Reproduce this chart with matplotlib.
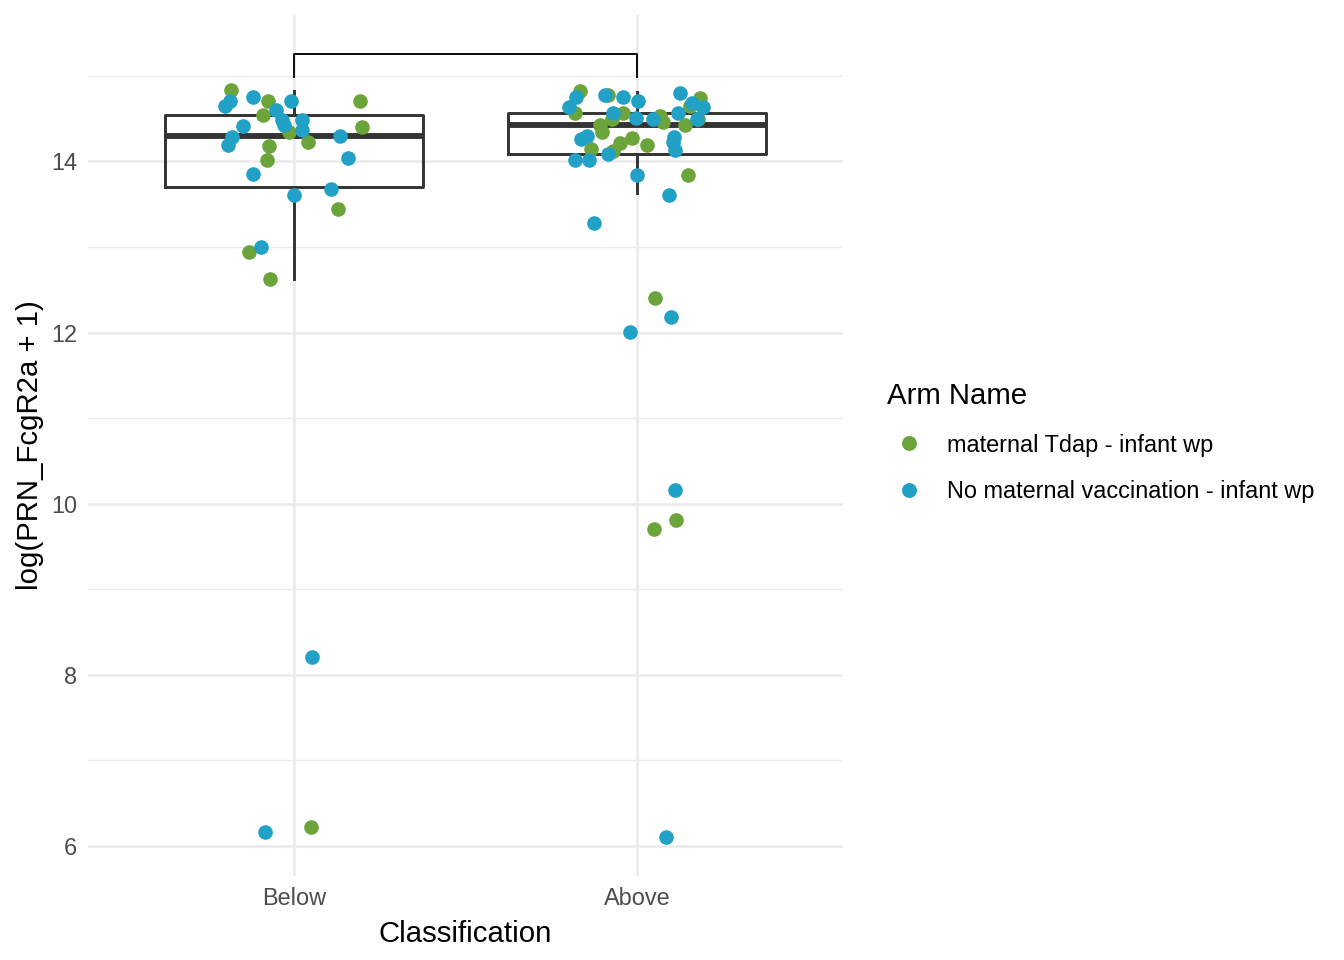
import numpy as np
import matplotlib
matplotlib.use("Agg")
import matplotlib.pyplot as plt
from matplotlib.lines import Line2D

plt.rcParams['font.family'] = ['Liberation Sans', 'DejaVu Sans']

categories = ["Below", "Above"]
arm_names = ["maternal Tdap - infant wp", "No maternal vaccination - infant wp"]
arm_colors = ["#6ba43a", "#22a1c7"]

# jittered points: (horizontal jitter offset, log value) per arm and class
below_tdap_jit = [-0.184, -0.076, -0.090, -0.015, 0.041, -0.073, -0.079, 0.192, 0.198, 0.128, -0.131, -0.070, 0.050]
below_tdap_val = [14.83, 14.70, 14.54, 14.34, 14.23, 14.18, 14.02, 14.71, 14.40, 13.44, 12.94, 12.63, 6.22]

below_none_jit = [-0.201, -0.187, -0.120, -0.009, -0.052, -0.035, -0.029, 0.023, 0.023, -0.149,
                  -0.181, -0.192, 0.134, 0.157, -0.120, 0.000, 0.108, -0.096, 0.052, -0.085]
below_none_val = [14.65, 14.70, 14.75, 14.71, 14.60, 14.48, 14.43, 14.48, 14.37, 14.41,
                  14.28, 14.19, 14.30, 14.04, 13.85, 13.61, 13.68, 13.00, 8.21, 6.16]

above_tdap_jit = [-0.166, -0.085, -0.181, -0.041, -0.073, -0.108, -0.102, -0.134, -0.050, -0.070, -0.015,
                  0.029, 0.067, 0.076, 0.184, 0.155, 0.140, 0.178, 0.149, 0.052, 0.050, 0.114]
above_tdap_val = [14.82, 14.77, 14.57, 14.56, 14.49, 14.42, 14.34, 14.15, 14.21, 14.12, 14.27,
                  14.19, 14.53, 14.46, 14.74, 14.65, 14.42, 14.49, 13.84, 12.40, 9.70, 9.81]

above_none_jit = [-0.178, -0.198, -0.093, -0.041, 0.003, -0.070, -0.003, 0.047, 0.125, 0.160, 0.192,
                  0.120, 0.175, -0.146, -0.163, 0.108, 0.105, 0.111, -0.085, -0.181, -0.140,
                  0.000, 0.093, -0.125, -0.020, 0.099, 0.111, 0.085]
above_none_val = [14.75, 14.64, 14.77, 14.75, 14.71, 14.56, 14.51, 14.49, 14.80, 14.68, 14.64,
                  14.57, 14.50, 14.30, 14.26, 14.28, 14.23, 14.13, 14.09, 14.02, 14.02,
                  13.84, 13.61, 13.28, 12.01, 12.18, 10.16, 6.11]

# box summary (computed on the full data set)
box_q1 = [13.70, 14.09]
box_med = [14.30, 14.42]
box_q3 = [14.54, 14.57]
box_lo = [12.63, 13.63]
box_hi = [14.82, 14.81]

# significance bracket between the two classes
bracket_top = 15.26
bracket_tip = 14.99

fig = plt.figure(figsize=(7, 5), dpi=192)
ax = fig.add_axes([88 / 1344, 1 - 876 / 960, (843 - 88) / 1344, (876 - 15) / 960])

pos = np.arange(1, len(categories) + 1)

stats = []
for i in range(len(categories)):
    stats.append(dict(med=box_med[i], q1=box_q1[i], q3=box_q3[i],
                      whislo=box_lo[i], whishi=box_hi[i], fliers=[]))
ax.bxp(stats, positions=pos, widths=0.75, showfliers=False, showcaps=False,
       boxprops=dict(color="#333333", linewidth=1.1),
       whiskerprops=dict(color="#333333", linewidth=1.1),
       medianprops=dict(color="#333333", linewidth=2.2, solid_capstyle='butt'),
       zorder=2)

groups = [
    (pos[0], below_tdap_jit, below_tdap_val, arm_colors[0]),
    (pos[1], above_tdap_jit, above_tdap_val, arm_colors[0]),
    (pos[0], below_none_jit, below_none_val, arm_colors[1]),
    (pos[1], above_none_jit, above_none_val, arm_colors[1]),
]
for p, jit, val, col in groups:
    ax.scatter(p + np.array(jit), val, s=30, color=col, linewidths=0, zorder=3)

ax.plot([pos[0], pos[0], pos[1], pos[1]], [bracket_tip, bracket_top, bracket_top, bracket_tip],
        color="black", linewidth=0.7, zorder=3)

ax.set_xlim(0.4, 2.6)
ax.set_ylim(5.65, 15.71)
ax.set_xticks(pos)
ax.set_xticklabels(categories)
ax.set_yticks([6, 8, 10, 12, 14])
ax.set_yticks([7, 9, 11, 13, 15], minor=True)

ax.grid(True, which='major', color="#ebebeb", linewidth=1.0, zorder=0)
ax.grid(True, which='minor', axis='y', color="#ebebeb", linewidth=0.55, zorder=0)
ax.set_axisbelow(True)
for s in ax.spines.values():
    s.set_visible(False)
ax.tick_params(which='both', length=0, labelsize=8.8, labelcolor="#4d4d4d", pad=4)

ax.set_xlabel("Classification", fontsize=11, labelpad=4)
ax.set_ylabel("log(PRN_FcgR2a + 1)", fontsize=11, labelpad=2.6)

handles = [Line2D([], [], marker='o', linestyle='none', markersize=5.6,
                  markerfacecolor=c, markeredgewidth=0) for c in arm_colors]
leg = fig.legend(handles, arm_names, title="Arm Name", loc='upper left',
                 bbox_to_anchor=(866 / 1344, 1 - 361 / 960), frameon=False,
                 fontsize=8.8, title_fontsize=11, alignment='left',
                 handletextpad=0.68, labelspacing=1.0, handlelength=1.87)

fig.savefig("out.png", dpi=192)
